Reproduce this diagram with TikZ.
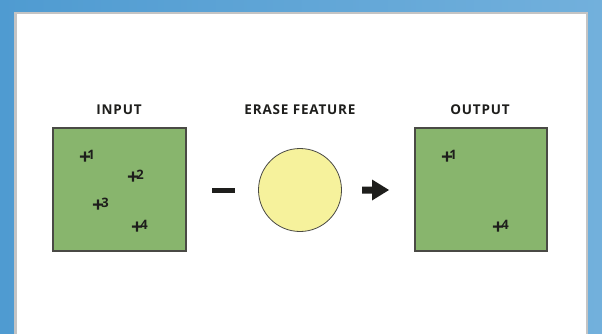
\documentclass[tikz,border=0pt]{standalone}
\usepackage{fontspec}
\setmainfont{Open Sans}
\usetikzlibrary{arrows.meta}
\definecolor{bgL}{HTML}{4F9BD1}
\definecolor{bgR}{HTML}{72B0DC}
\definecolor{panelBorder}{HTML}{C4C4C4}
\definecolor{boxGreen}{HTML}{88B56D}
\definecolor{boxEdge}{HTML}{4A4A45}
\definecolor{circFill}{HTML}{F6F29C}
\definecolor{inkc}{HTML}{1E1E1C}
\tikzset{
  mapbox/.style={draw=boxEdge, line width=1.2pt, fill=boxGreen},
  title/.style={font=\bfseries\fontsize{13.5}{14}\selectfont\addfontfeature{LetterSpace=6}, text=inkc, anchor=center},
  plusmark/.style={font=\bfseries\fontsize{21}{21}\selectfont, text=inkc, inner sep=0pt, anchor=center},
  num/.style={font=\bfseries\fontsize{13}{13}\selectfont, text=inkc, inner sep=0pt, anchor=center},
}
\begin{document}
\begin{tikzpicture}[x=1pt,y=-1pt]
\useasboundingbox (0,0) rectangle (602,334);
\shade[left color=bgL, right color=bgR] (0,0) rectangle (602,334);
\fill[panelBorder] (14,12) rectangle (588,340);
\fill[white] (16.5,14.5) rectangle (585.5,340);
% titles
\node[title] (tin) at (119,110) {INPUT};
\node[title] (ter) at (300,110) {ERASE FEATURE};
\node[title] (tout) at (480,110) {OUTPUT};
% boxes
\path[mapbox] (53,128) rectangle (186,251);
\path[mapbox] (415,128) rectangle (547,251);
% input points
\node[plusmark] (p1) at (85,158) {+};
\node[num] (n1) at (91,155) {1};
\node[plusmark] (p2) at (133,178) {+};
\node[num] (n2) at (140,175) {2};
\node[plusmark] (p3) at (98,206) {+};
\node[num] (n3) at (105,203) {3};
\node[plusmark] (p4) at (137,228) {+};
\node[num] (n4) at (144,225) {4};
% output points
\node[plusmark] (q1) at (447,158) {+};
\node[num] (m1) at (453,155) {1};
\node[plusmark] (q4) at (498,228) {+};
\node[num] (m4) at (505,225) {4};
% minus
\fill[inkc] (212,188) rectangle (235,192.5);
% circle
\node[circle, draw=boxEdge, line width=0.8pt, fill=circFill, minimum size=83pt, inner sep=0pt] (erase) at (300,190) {};
% arrow
\fill[inkc] (362,186.5) -- (372,186.5) -- (372,179.5) -- (389,190) -- (372,200.5) -- (372,193.5) -- (362,193.5) -- cycle;
\end{tikzpicture}
\end{document}
